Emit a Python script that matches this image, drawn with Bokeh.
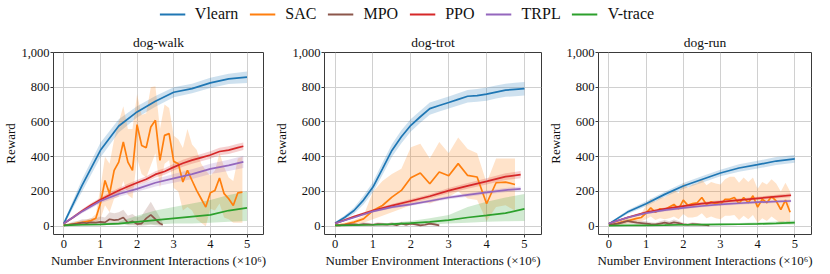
from bokeh.plotting import figure
from bokeh.models import Legend, LegendItem, FixedTicker, NumeralTickFormatter, Range1d
from bokeh.layouts import column, row
from bokeh.embed import file_html
from bokeh.resources import INLINE

FONT = "Liberation Serif"

ALGOS = ["Vlearn", "SAC", "MPO", "PPO", "TRPL", "V-trace"]
COLORS = ["#1f77b4", "#ff7f0e", "#8c564b", "#d62728", "#9467bd", "#2ca02c"]
TASKS = ["dog-walk", "dog-trot", "dog-run"]
X_TICKS = [0, 1, 2, 3, 4, 5]
Y_TICKS = [0, 200, 400, 600, 800, 1000]

X_HALF = [0, 0.5, 1, 1.5, 2, 2.5, 3, 3.5, 4, 4.5, 5]
X_HALF_END49 = [0, 0.5, 1, 1.5, 2, 2.5, 3, 3.5, 4, 4.5, 4.9]
X_QUARTER = [0, 0.25, 0.5, 0.75, 1, 1.25, 1.5, 1.75, 2, 2.25, 2.5, 2.75, 3, 3.25, 3.5, 3.75, 4, 4.25, 4.5, 4.75, 5]
X_QUARTER_END49 = [0, 0.25, 0.5, 0.75, 1, 1.25, 1.5, 1.75, 2, 2.25, 2.5, 2.75, 3, 3.25, 3.5, 3.75, 4, 4.25, 4.5, 4.75, 4.9]
X_QUARTER_END475 = [0, 0.25, 0.5, 0.75, 1, 1.25, 1.5, 1.75, 2, 2.25, 2.5, 2.75, 3, 3.25, 3.5, 3.75, 4, 4.25, 4.5, 4.75]
X_EIGHTH = [0, 0.125, 0.25, 0.375, 0.5, 0.625, 0.75, 0.875, 1, 1.125, 1.25, 1.375, 1.5, 1.625, 1.75, 1.875,
            2, 2.125, 2.25, 2.375, 2.5, 2.625, 2.75, 2.875, 3, 3.125, 3.25, 3.375, 3.5, 3.625, 3.75, 3.875,
            4, 4.125, 4.25, 4.375, 4.5, 4.625, 4.75, 4.875]
X_MPO = [0, 0.125, 0.25, 0.375, 0.5, 0.625, 0.75, 0.875, 1, 1.125, 1.25, 1.375, 1.5, 1.625, 1.75, 1.875,
         2, 2.125, 2.25, 2.375, 2.5, 2.625, 2.7]
X_MPO_TROT = [0, 0.125, 0.25, 0.375, 0.5, 0.625, 0.75, 0.875, 1, 1.125, 1.25, 1.375, 1.5, 1.625, 1.75, 1.875,
              2, 2.125, 2.25, 2.375, 2.5, 2.625, 2.75]

# ---------------- dog-walk ----------------
WALK_VLEARN = [15, 235, 437, 577, 658, 719, 771, 792, 825, 848, 858]
WALK_VLEARN_LO = [5, 200, 395, 540, 625, 688, 742, 765, 796, 818, 825]
WALK_VLEARN_HI = [25, 270, 480, 615, 690, 750, 800, 820, 855, 878, 890]
WALK_SAC = [5, 8, 12, 18, 22, 27, 32, 45, 130, 263, 186, 321, 369, 485, 369, 321, 585, 465, 452, 571, 610, 379,
            523, 533, 373, 360, 254, 321, 263, 206, 158, 110, 192, 206, 277, 187, 158, 119, 192, 196]
WALK_SAC_HI = [12, 15, 20, 28, 32, 38, 45, 70, 220, 400, 360, 500, 600, 690, 560, 560, 760, 640, 650, 800, 805, 560,
               700, 680, 520, 500, 450, 560, 470, 440, 360, 320, 290, 320, 420, 340, 280, 260, 390, 400]
WALK_SAC_LO = [0, 2, 5, 8, 12, 15, 20, 25, 40, 120, 80, 160, 170, 260, 180, 160, 390, 300, 280, 350, 420, 220,
               360, 380, 220, 200, 90, 110, 90, 40, 20, 0, 100, 90, 130, 50, 40, 20, 20, 20]
WALK_MPO = [5, 8, 12, 15, 20, 18, 22, 20, 25, 22, 40, 35, 38, 50, 20, 28, 12, 15, 45, 65, 40, 15, 8]
WALK_MPO_HI = [10, 15, 25, 30, 40, 40, 45, 45, 55, 50, 80, 75, 80, 95, 60, 70, 50, 60, 100, 140, 95, 50, 20]
WALK_MPO_LO = [0, 2, 3, 5, 5, 5, 5, 5, 5, 5, 10, 8, 10, 15, 5, 5, 2, 2, 5, 10, 5, 2, 0]
WALK_PPO = [15, 50, 88, 122, 152, 180, 205, 228, 250, 270, 298, 315, 340, 362, 380, 395, 410, 430, 438, 452, 460]
WALK_PPO_LO = [10, 42, 78, 110, 140, 166, 190, 212, 234, 253, 280, 296, 320, 342, 360, 374, 388, 408, 416, 430, 438]
WALK_PPO_HI = [20, 58, 98, 134, 164, 194, 220, 244, 266, 287, 316, 334, 360, 382, 400, 416, 432, 452, 460, 474, 482]
WALK_TRPL = [15, 85, 145, 185, 215, 250, 275, 300, 330, 350, 370]
WALK_TRPL_LO = [10, 75, 132, 170, 198, 228, 250, 272, 300, 318, 335]
WALK_TRPL_HI = [20, 95, 158, 200, 232, 272, 300, 328, 360, 382, 405]
WALK_VTRACE = [5, 8, 10, 15, 25, 35, 45, 55, 65, 90, 105]
WALK_VTRACE_HI = [10, 12, 15, 25, 60, 90, 110, 130, 150, 180, 200]
WALK_VTRACE_LO = [0, 3, 5, 8, 10, 10, 15, 15, 20, 25, 30]

# ---------------- dog-trot ----------------
TROT_VLEARN = [17, 50, 90, 150, 225, 330, 436, 515, 581, 630, 677, 695, 712, 730, 748, 752, 760, 772, 783, 788, 792]
TROT_VLEARN_LO = [10, 38, 72, 125, 195, 295, 400, 478, 545, 595, 642, 660, 678, 695, 712, 716, 722, 735, 745, 748, 752]
TROT_VLEARN_HI = [24, 62, 108, 175, 255, 365, 472, 552, 617, 665, 712, 730, 746, 765, 784, 790, 798, 810, 820, 826, 830]
TROT_SAC = [5, 10, 23, 42, 90, 119, 167, 206, 279, 306, 244, 312, 290, 360, 292, 283, 129, 250, 254, 240]
TROT_SAC_HI = [10, 20, 35, 60, 200, 260, 300, 330, 455, 475, 390, 485, 420, 510, 445, 420, 250, 390, 390, 390]
TROT_SAC_LO = [0, 0, 10, 20, 40, 60, 80, 100, 120, 140, 130, 150, 170, 200, 160, 150, 30, 110, 120, 90]
TROT_MPO = [5, 5, 8, 10, 10, 8, 12, 10, 8, 12, 10, 8, 12, 5, 15, 8, 15, 10, 5, 8, 15, 10, 5]
TROT_MPO_HI = [10, 12, 16, 20, 20, 16, 22, 20, 16, 22, 20, 16, 24, 12, 26, 16, 26, 20, 12, 16, 26, 18, 10]
TROT_MPO_LO = [0, 0, 2, 4, 4, 2, 5, 4, 2, 5, 4, 2, 5, 0, 6, 2, 6, 4, 0, 2, 6, 3, 0]
TROT_PPO = [15, 55, 90, 118, 145, 172, 205, 232, 258, 285, 297]
TROT_PPO_LO = [10, 48, 82, 108, 134, 160, 190, 216, 240, 266, 276]
TROT_PPO_HI = [20, 62, 98, 128, 156, 184, 220, 248, 276, 304, 318]
TROT_TRPL = [15, 50, 85, 110, 125, 145, 165, 180, 195, 208, 215]
TROT_TRPL_LO = [12, 45, 78, 102, 117, 136, 155, 170, 184, 196, 202]
TROT_TRPL_HI = [18, 55, 92, 118, 133, 154, 175, 190, 206, 220, 228]
TROT_VTRACE = [5, 6, 8, 12, 18, 25, 35, 50, 62, 75, 100]
TROT_VTRACE_HI = [8, 10, 12, 20, 30, 45, 65, 110, 140, 165, 185]
TROT_VTRACE_LO = [2, 3, 4, 5, 8, 10, 15, 20, 25, 28, 30]

# ---------------- dog-run ----------------
RUN_VLEARN = [13, 81, 129, 183, 231, 269, 306, 335, 354, 375, 388]
RUN_VLEARN_LO = [8, 70, 115, 168, 214, 250, 287, 314, 332, 352, 365]
RUN_VLEARN_HI = [18, 92, 143, 198, 248, 288, 325, 356, 376, 398, 410]
RUN_SAC = [5, 10, 18, 25, 30, 38, 45, 50, 75, 105, 80, 100, 95, 110, 125, 100, 150, 120, 130, 135, 165, 125,
           140, 130, 125, 155, 155, 165, 130, 165, 135, 175, 110, 155, 135, 170, 145, 95, 150, 80]
RUN_SAC_HI = [12, 18, 28, 38, 45, 55, 65, 75, 120, 160, 140, 165, 165, 185, 210, 190, 250, 220, 240, 245, 270, 235,
              255, 245, 240, 270, 285, 285, 250, 280, 255, 280, 215, 255, 240, 270, 245, 200, 250, 200]
RUN_SAC_LO = [0, 3, 8, 12, 15, 20, 25, 28, 40, 55, 35, 45, 40, 45, 55, 40, 70, 50, 50, 55, 75, 45,
              55, 45, 40, 60, 60, 65, 35, 60, 40, 65, 20, 45, 30, 55, 35, 15, 30, 10]
RUN_MPO = [10, 12, 15, 22, 30, 25, 20, 18, 15, 12, 10, 15, 20, 15, 22, 18, 10, 8, 12, 10, 8, 6, 5]
RUN_MPO_HI = [15, 20, 25, 35, 45, 40, 32, 30, 28, 22, 20, 28, 35, 28, 38, 30, 20, 16, 22, 18, 15, 12, 10]
RUN_MPO_LO = [5, 5, 8, 10, 15, 12, 10, 8, 6, 4, 3, 5, 8, 5, 8, 6, 3, 2, 4, 3, 2, 1, 0]
RUN_PPO = [15, 50, 80, 100, 115, 130, 140, 150, 160, 170, 178]
RUN_PPO_LO = [10, 44, 73, 92, 107, 121, 131, 140, 150, 159, 166]
RUN_PPO_HI = [20, 56, 87, 108, 123, 139, 149, 160, 170, 181, 190]
RUN_TRPL = [15, 50, 75, 92, 105, 116, 125, 132, 138, 142, 145]
RUN_TRPL_LO = [11, 44, 68, 85, 98, 109, 118, 124, 130, 134, 137]
RUN_TRPL_HI = [19, 56, 82, 99, 112, 123, 132, 140, 146, 150, 153]
RUN_VTRACE = [3, 4, 5, 6, 8, 9, 10, 11, 13, 16, 20]
RUN_VTRACE_HI = [6, 7, 8, 10, 12, 14, 16, 18, 22, 27, 32]
RUN_VTRACE_LO = [1, 2, 2, 3, 4, 5, 5, 6, 7, 9, 10]

SERIES = {
    "dog-walk": [
        (X_HALF, WALK_VLEARN, WALK_VLEARN_LO, WALK_VLEARN_HI),
        (X_EIGHTH, WALK_SAC, WALK_SAC_LO, WALK_SAC_HI),
        (X_MPO, WALK_MPO, WALK_MPO_LO, WALK_MPO_HI),
        (X_QUARTER_END49, WALK_PPO, WALK_PPO_LO, WALK_PPO_HI),
        (X_HALF_END49, WALK_TRPL, WALK_TRPL_LO, WALK_TRPL_HI),
        (X_HALF, WALK_VTRACE, WALK_VTRACE_LO, WALK_VTRACE_HI),
    ],
    "dog-trot": [
        (X_QUARTER, TROT_VLEARN, TROT_VLEARN_LO, TROT_VLEARN_HI),
        (X_QUARTER_END475, TROT_SAC, TROT_SAC_LO, TROT_SAC_HI),
        (X_MPO_TROT, TROT_MPO, TROT_MPO_LO, TROT_MPO_HI),
        (X_HALF_END49, TROT_PPO, TROT_PPO_LO, TROT_PPO_HI),
        (X_HALF_END49, TROT_TRPL, TROT_TRPL_LO, TROT_TRPL_HI),
        (X_HALF, TROT_VTRACE, TROT_VTRACE_LO, TROT_VTRACE_HI),
    ],
    "dog-run": [
        (X_HALF, RUN_VLEARN, RUN_VLEARN_LO, RUN_VLEARN_HI),
        (X_EIGHTH, RUN_SAC, RUN_SAC_LO, RUN_SAC_HI),
        (X_MPO, RUN_MPO, RUN_MPO_LO, RUN_MPO_HI),
        (X_HALF_END49, RUN_PPO, RUN_PPO_LO, RUN_PPO_HI),
        (X_HALF_END49, RUN_TRPL, RUN_TRPL_LO, RUN_TRPL_HI),
        (X_HALF, RUN_VTRACE, RUN_VTRACE_LO, RUN_VTRACE_HI),
    ],
}

# layout: (width, border_left, border_right)
PANEL_GEOM = [(271, 48, 8), (274, 51, 4), (268, 48, 2)]
PANEL_H = 246
LEGEND_H = 28


def make_panel(task, geom):
    w, bl, br = geom
    p = figure(width=w, height=PANEL_H, output_backend="svg", toolbar_location=None,
               x_range=Range1d(-0.28, 5.45), y_range=Range1d(-48, 1000),
               min_border_left=bl, min_border_right=br, min_border_top=24, min_border_bottom=40,
               title=task)
    p.title.text_font = FONT
    p.title.text_font_size = "13.5px"
    p.title.text_font_style = "normal"
    p.title.align = "center"
    p.title.text_color = "#111111"
    p.title.standoff = 5
    p.background_fill_color = "white"
    p.border_fill_color = "white"
    p.outline_line_color = "#3a3a3a"
    p.outline_line_width = 1
    p.outline_line_alpha = 1

    for ax in (p.xaxis[0], p.yaxis[0]):
        ax.axis_line_color = None
        ax.major_tick_line_color = "#3a3a3a"
        ax.major_tick_out = 3
        ax.major_tick_in = 0
        ax.minor_tick_line_color = None
        ax.major_label_text_font = FONT
        ax.major_label_text_font_size = "12.5px"
        ax.major_label_text_color = "#111111"
        ax.axis_label_text_font = FONT
        ax.axis_label_text_font_size = "13px"
        ax.axis_label_text_font_style = "normal"
        ax.axis_label_text_color = "#111111"
        ax.major_label_standoff = 2
        ax.axis_label_standoff = 2
    p.yaxis.major_label_standoff = 1
    p.yaxis.axis_label_standoff = 0

    p.xaxis.ticker = FixedTicker(ticks=X_TICKS)
    p.yaxis.ticker = FixedTicker(ticks=Y_TICKS)
    p.yaxis.formatter = NumeralTickFormatter(format="0,0")
    p.xaxis.axis_label = "Number Environment Interactions (×10⁶)"
    p.yaxis.axis_label = "Reward"
    p.xgrid.grid_line_color = "#d0d0d0"
    p.ygrid.grid_line_color = "#d0d0d0"
    p.xgrid.grid_line_width = 1
    p.ygrid.grid_line_width = 1

    for (xs, ys, lo, hi), color in zip(SERIES[task], COLORS):
        p.varea(x=xs, y1=lo, y2=hi, fill_color=color, fill_alpha=0.22)
    for (xs, ys, lo, hi), color in zip(SERIES[task], COLORS):
        p.line(x=xs, y=ys, line_color=color, line_width=1.7)
    return p


panels = [make_panel(t, g) for t, g in zip(TASKS, PANEL_GEOM)]

total_w = sum(g[0] for g in PANEL_GEOM)
leg = figure(width=total_w, height=LEGEND_H, output_backend="svg", toolbar_location=None,
             x_axis_type=None, y_axis_type=None, min_border=0,
             x_range=Range1d(0, 1), y_range=Range1d(0, 1))
leg.outline_line_color = None
leg.xgrid.visible = False
leg.ygrid.visible = False
items = []
nan = float("nan")
for name, color in zip(ALGOS, COLORS):
    r = leg.line(x=[nan], y=[nan], line_color=color, line_width=2)
    items.append(LegendItem(label=name, renderers=[r]))
legend = Legend(items=items, orientation="horizontal", location="center",
                glyph_width=26, glyph_height=16, label_standoff=10, spacing=11,
                label_text_font=FONT, label_text_font_size="16px", label_text_color="#111111",
                label_text_font_style="normal",
                background_fill_alpha=0, border_line_color=None, padding=0, margin=0)
leg.add_layout(legend, "center")

layout = column(leg, row(*panels))
open("out.html", "w").write(file_html(layout, INLINE))
